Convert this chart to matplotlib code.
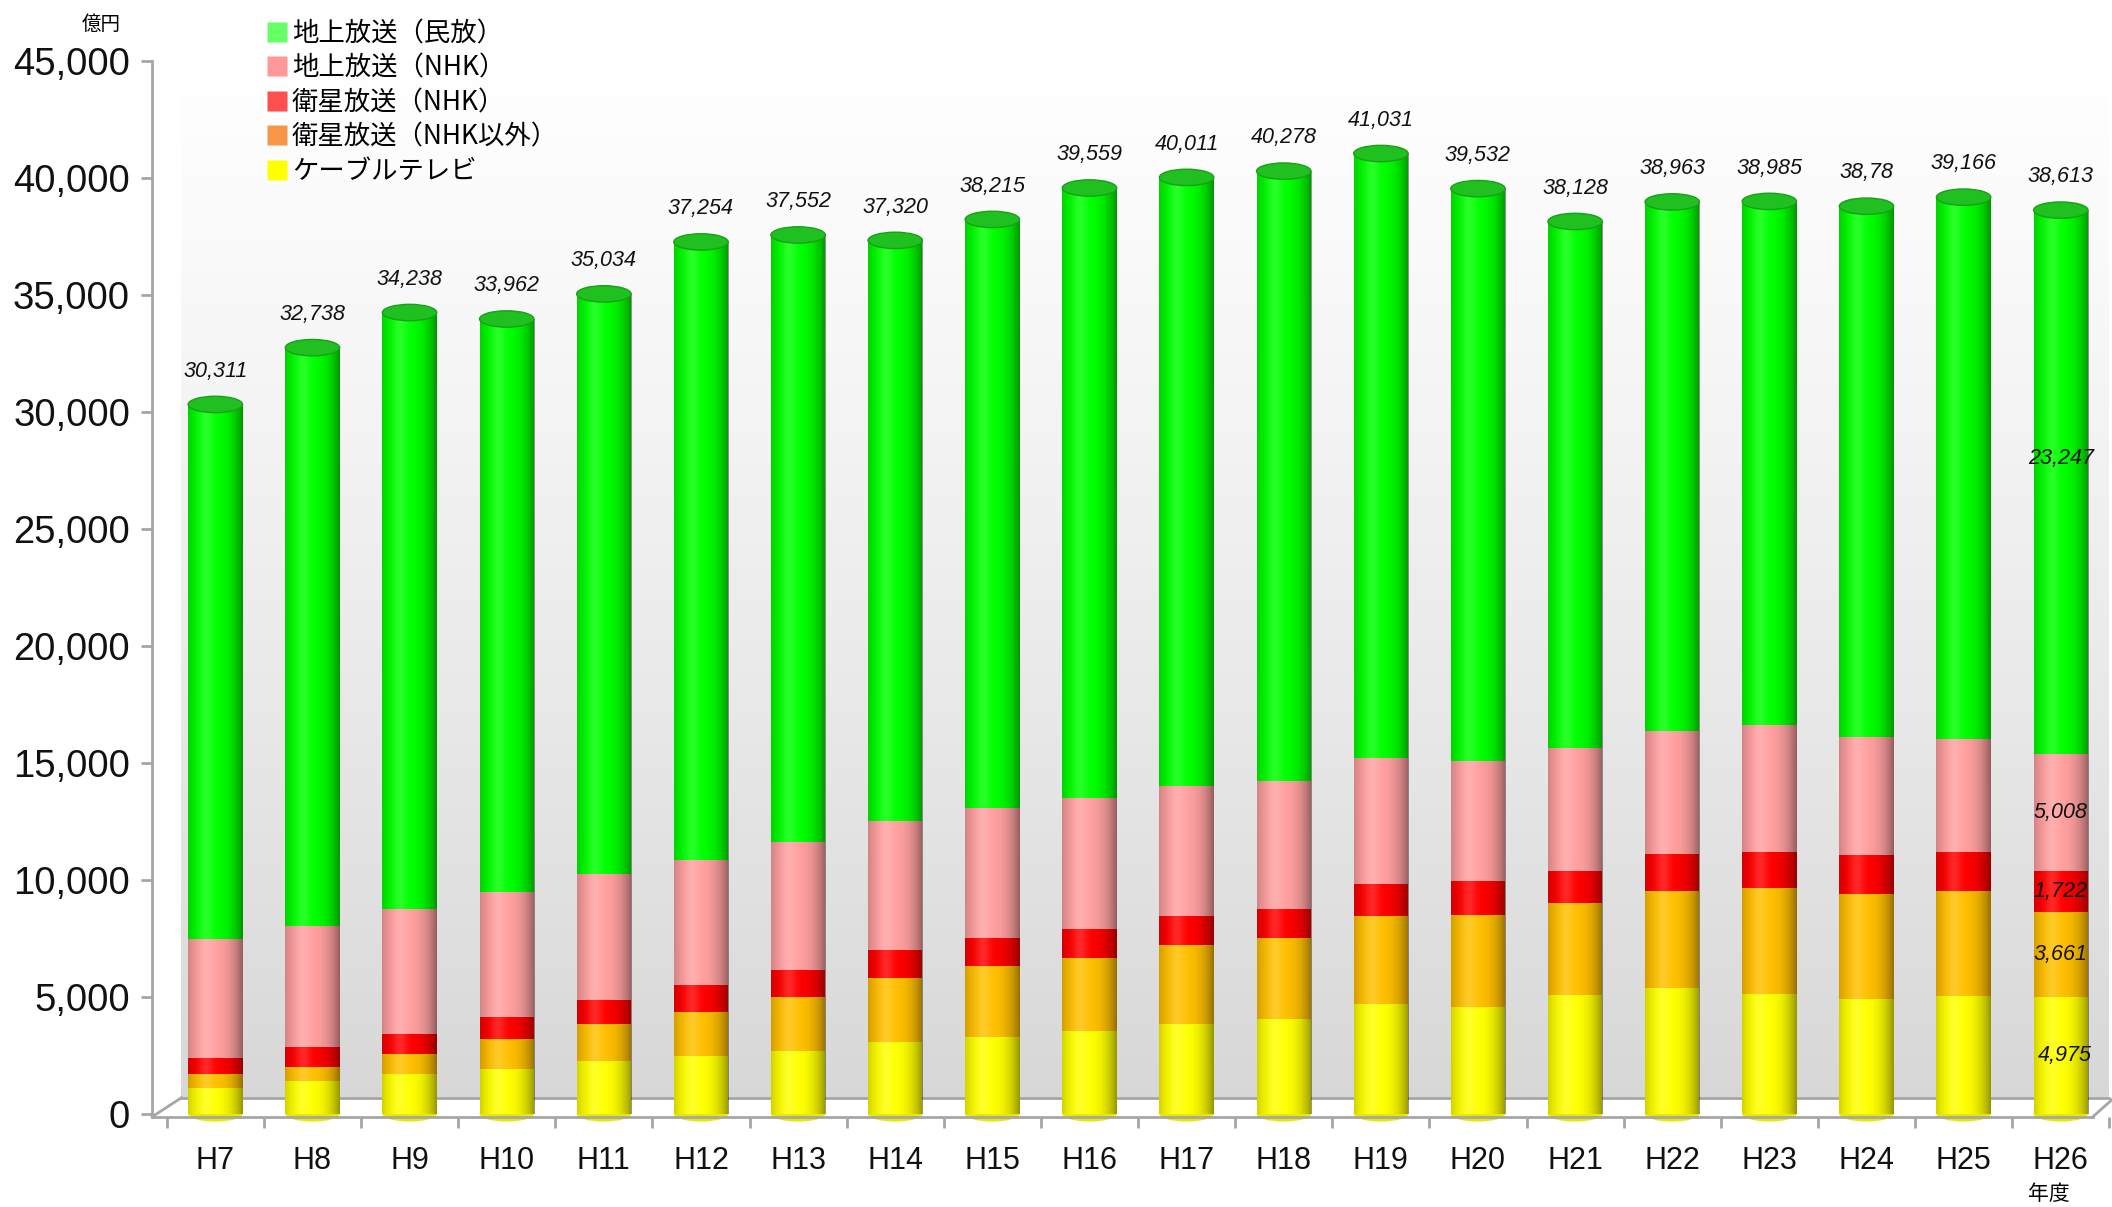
import numpy as np
import matplotlib
matplotlib.use('Agg')
import matplotlib.pyplot as plt
from matplotlib.patches import Ellipse
from matplotlib.lines import Line2D

# ---------------- data ----------------
years = ['H7', 'H8', 'H9', 'H10', 'H11', 'H12', 'H13', 'H14', 'H15', 'H16',
         'H17', 'H18', 'H19', 'H20', 'H21', 'H22', 'H23', 'H24', 'H25', 'H26']
cable = [1110, 1428, 1687, 1903, 2264, 2480, 2697, 3057, 3273, 3562,
         3850, 4038, 4715, 4571, 5100, 5390, 5135, 4906, 5051, 4975]
bs_other = [577, 576, 865, 1298, 1586, 1875, 2307, 2740, 3029, 3100,
            3346, 3460, 3721, 3922, 3894, 4145, 4508, 4474, 4473, 3661]
bs_nhk = [721, 837, 866, 938, 1010, 1153, 1153, 1226, 1225, 1255,
          1269, 1255, 1398, 1442, 1406, 1565, 1552, 1680, 1659, 1722]
nhk_terr = [5047, 5191, 5335, 5335, 5407, 5336, 5480, 5479, 5523, 5595,
            5551, 5480, 5379, 5163, 5229, 5250, 5405, 5029, 4834, 5008]
commercial = [22856, 24706, 25485, 24488, 24767, 26410, 25915, 24818, 25165, 26047,
              25995, 26045, 25818, 24434, 22499, 22613, 22385, 22691, 23149, 23247]
total_labels = ['30,311', '32,738', '34,238', '33,962', '35,034', '37,254', '37,552',
                '37,320', '38,215', '39,559', '40,011', '40,278', '41,031', '39,532',
                '38,128', '38,963', '38,985', '38,78', '39,166', '38,613']
legend_names = ['地上放送（民放）', '地上放送（NHK）', '衛星放送（NHK）',
                '衛星放送（NHK以外）', 'ケーブルテレビ']
yticks = [0, 5000, 10000, 15000, 20000, 25000, 30000, 35000, 40000, 45000]

# ---------------- style ----------------
bar_colors = ['#FFFF00', '#FFC000', '#FF0000', '#FFA0A0', '#00FF00']   # bottom -> top
legend_colors = ['#66FF66', '#FF9999', '#FF4F4F', '#F79646', '#FFFF00']  # legend order
CJK = ['Noto Sans CJK JP', 'DejaVu Sans']
LAT = ['Liberation Sans', 'DejaVu Sans']
GREY = '#A6A6A6'

fig = plt.figure(figsize=(21.12, 12.07), dpi=100)
fig.patch.set_facecolor('white')


def fx(px):
    return px / 1568.0


def fy(py):
    return 1 - py / 896.0


ax = fig.add_axes([fx(113), fy(829), fx(1566) - fx(113), fy(45) - fy(829)])
ax.set_xlim(-0.65, 19.5)
ax.set_ylim(-120, 45000)
ax.set_facecolor('none')

# back wall gradient
t = np.linspace(0, 1, 256)[:, None]
shade = 1 - 0.155 * t ** 1.2
wall = np.dstack([shade, shade, shade])
ax.imshow(wall, extent=(-0.35, 19.5, 690, 45400), aspect='auto', zorder=0,
          interpolation='bilinear')

# floor lines
ax.plot([-0.35, 19.5], [690, 690], color=GREY, lw=2, zorder=1, clip_on=False)
ax.plot([-0.65, -0.35], [-120, 690], color=GREY, lw=2, zorder=1, clip_on=False)
ax.plot([19.33, 19.55], [-120, 690], color=GREY, lw=2, zorder=1, clip_on=False)

# bars
series = [cable, bs_other, bs_nhk, nhk_terr, commercial]
x = np.arange(len(years))
w = 0.56
bottom = np.zeros(len(years))
for vals, col in zip(series, bar_colors):
    ax.bar(x, vals, width=w, bottom=bottom, color=col, linewidth=0, zorder=3)
    bottom = bottom + np.array(vals)
totals = bottom

# cylinder shading
tt = np.linspace(0, 1, 128)
dark = np.zeros((1, 128, 4))
dark[..., 3] = 0.42 * np.clip(np.abs(tt - 0.42) / 0.58, 0, 1) ** 2.6
light = np.ones((1, 128, 4))
light[..., 3] = 0.16 * np.exp(-((tt - 0.33) / 0.13) ** 2)
for i in range(len(years)):
    ext = (i - w / 2, i + w / 2, 0, totals[i])
    ax.imshow(dark, extent=ext, aspect='auto', zorder=4, interpolation='bilinear')
    ax.imshow(light, extent=ext, aspect='auto', zorder=4, interpolation='bilinear')
    ax.add_patch(Ellipse((i, totals[i]), w, 700, facecolor='#20C020',
                         edgecolor='#18A018', lw=1, zorder=5))
    ax.add_patch(Ellipse((i, 0), w, 650, facecolor='#E8E800', edgecolor='none',
                         zorder=2, clip_on=False))
    ax.annotate(total_labels[i], (i, totals[i]), xytext=(0, 24),
                textcoords='offset points', ha='center', va='center',
                fontsize=15.5, style='italic', family=LAT, color='#111111', zorder=6)

# segment labels on last bar
last = len(years) - 1
base = 0
for k, vals in enumerate(series):
    v = vals[last]
    yc = base + v / 2
    if k == len(series) - 1:
        yc += 1000
    ax.text(last + (0.04 if k == 0 else 0), yc, f'{v:,}', ha='center', va='center',
            fontsize=15.5, style='italic', family=LAT, color='#111111', zorder=6)
    base += v

# axes styling
for s in ['top', 'right']:
    ax.spines[s].set_visible(False)
ax.spines['left'].set_color(GREY)
ax.spines['left'].set_linewidth(2)
ax.spines['left'].set_bounds(-120, 45000)
ax.spines['bottom'].set_color(GREY)
ax.spines['bottom'].set_linewidth(2)
ax.spines['bottom'].set_bounds(-0.65, 19.33)

ax.set_yticks(yticks)
ax.set_yticklabels([f'{v:,}' for v in yticks], fontsize=27.5, family=LAT, color='#111111')
ax.tick_params(axis='y', length=8, width=2, color=GREY, pad=8)

ax.set_xticks(x)
ax.set_xticklabels(years, fontsize=22, family=LAT, color='#111111')
ax.set_xticks(np.arange(-0.5, 19.6, 1), minor=True)
ax.tick_params(axis='x', which='major', length=0, pad=21)
ax.tick_params(axis='x', which='minor', length=8, width=2, color=GREY)

# unit labels
fig.text(fx(75), fy(18), '億円', ha='center', va='center', fontsize=14, family=CJK)
fig.text(fx(1521), fy(886), '年度', ha='center', va='center', fontsize=15, family=CJK)

# legend
handles = [Line2D([], [], marker='s', ls='', markersize=14.5, markerfacecolor=c,
                  markeredgecolor='none') for c in legend_colors]
fig.legend(handles, legend_names, loc='upper left', bbox_to_anchor=(fx(198), fy(15)),
           frameon=False, prop={'family': CJK, 'size': 19}, handlelength=0.8,
           handletextpad=0.15, labelspacing=0.28, borderpad=0, borderaxespad=0)

fig.savefig('out.png', dpi=100, facecolor='white')
